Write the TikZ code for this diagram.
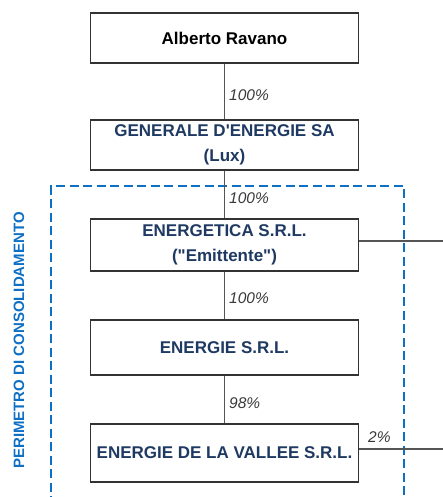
\documentclass[tikz,border=0pt]{standalone}
\usepackage{fontspec}
\newfontfamily\lsans{Liberation Sans}
\definecolor{navy}{HTML}{1F3A62}
\definecolor{perblue}{HTML}{0E70C4}
\definecolor{boxline}{HTML}{333333}
\definecolor{conline}{HTML}{555555}
\definecolor{pctgray}{HTML}{3A3A3A}
\tikzset{
  entity/.style={draw=boxline, line width=1.1pt, fill=white, minimum width=268pt, inner sep=0pt,
    align=center, font=\lsans\bfseries\fontsize{17}{25}\selectfont, text=navy},
  conn/.style={draw=conline, line width=1.1pt},
  pct/.style={anchor=west, inner sep=0pt, font=\lsans\itshape\fontsize{15.5}{18}\selectfont, text=pctgray},
  perim/.style={draw=perblue, line width=2pt, dash pattern=on 9pt off 4.5pt}
}
\begin{document}
\begin{tikzpicture}[x=1pt,y=-1pt]
\useasboundingbox (0,0) rectangle (443,497);
\clip (0,0) rectangle (443,497);
% perimeter
\draw[perim] (51,505) -- (51,186) -- (404,186) -- (404,505);
\node[rotate=90, inner sep=0pt, text=perblue, font=\lsans\bfseries\fontsize{15}{18}\selectfont] (perimlabel) at (19,340.5) {PERIMETRO DI CONSOLIDAMENTO};
% boxes
\node[entity, minimum height=50pt, text=black] (ar) at (224.5,38) {Alberto Ravano};
\node[entity, minimum height=50pt] (gen) at (224.5,145) {GENERALE D'ENERGIE SA\\(Lux)};
\node[entity, minimum height=52pt] (eng) at (224.5,245) {ENERGETICA S.R.L.\\("Emittente")};
\node[entity, minimum height=55pt] (en) at (224.5,347.5) {ENERGIE S.R.L.};
\node[entity, minimum height=58pt] (edv) at (224.5,453) {ENERGIE DE LA VALLEE S.R.L.};
% connectors
\coordinate (r1) at (445,241);
\coordinate (r2) at (445,449);
\draw[conn] (ar.south) -- (gen.north);
\draw[conn] (gen.south) -- (eng.north);
\draw[conn] (eng.south) -- (en.north);
\draw[conn] (en.south) -- (edv.north);
\draw[conn] (eng.east |- r1) -- (r1);
\draw[conn] (edv.east |- r2) -- (r2);
% labels
\node[pct] (p1) at (229,95) {100\%};
\node[pct] (p2) at (229,198.5) {100\%};
\node[pct] (p3) at (229,298.5) {100\%};
\node[pct] (p4) at (229,403.5) {98\%};
\node[pct] (p5) at (368,437) {2\%};
\end{tikzpicture}
\end{document}
